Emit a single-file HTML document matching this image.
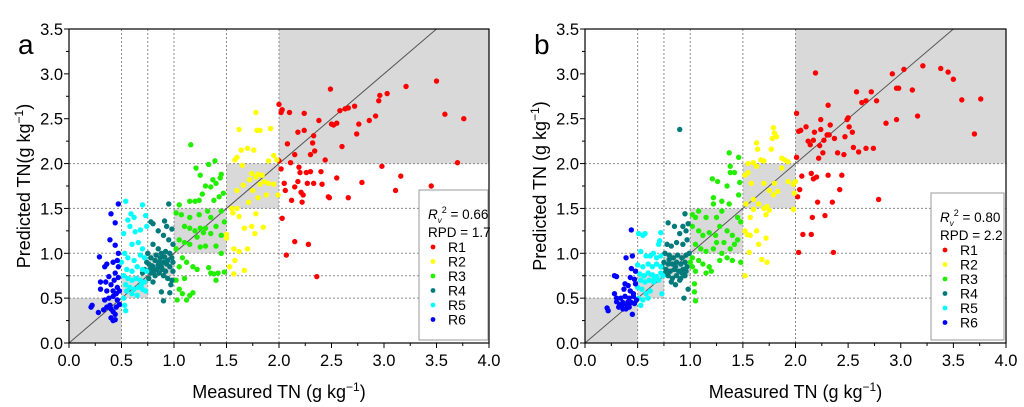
<!DOCTYPE html>
<html><head><meta charset="utf-8">
<style>
html,body{margin:0;padding:0;background:#fff;}
svg{display:block;font-family:"Liberation Sans",Arial,sans-serif;}
</style></head>
<body>
<svg id="chart" width="1024" height="407" viewBox="0 0 1024 407" xmlns="http://www.w3.org/2000/svg"></svg>
<script>
const xTicks = [0,0.5,1,1.5,2,2.5,3,3.5,4];
const yTicks = [0,0.5,1,1.5,2,2.5,3,3.5];
const xTickLabels = ["0.0","0.5","1.0","1.5","2.0","2.5","3.0","3.5","4.0"];
const yTickLabels = ["0.0","0.5","1.0","1.5","2.0","2.5","3.0","3.5"];
const gridVals = [0.5,0.75,1,1.5,2];
const shadeBoxes = [[0,0.5,0,0.5],[0.5,0.75,0.5,0.75],[0.75,1,0.75,1],[1,1.5,1,1.5],[1.5,2,1.5,2],[2,4,2,3.5]];
const seriesNames = ["R1","R2","R3","R4","R5","R6"];
const seriesColors = ["#ff0000","#ffff00","#22ee00","#007a7a","#00ffff","#0000ff"];

const R1a=[[2.0,2.66],[2.03,2.6],[2.1,2.57],[2.02,2.57],[2.24,2.56],[2.49,2.83],[2.58,2.59],[2.63,2.61],[2.66,2.62],[2.72,2.64],[2.96,2.76],[3.03,2.78],[3.21,2.86],[3.5,2.92],[3.58,2.55],[3.76,2.5],[2.38,2.48],[2.5,2.44],[2.55,2.45],[2.52,2.43],[2.76,2.44],[2.86,2.48],[2.92,2.53],[2.95,2.7],[2.74,2.33],[2.6,2.19],[2.33,2.31],[2.18,2.35],[2.24,2.37],[2.08,2.22],[2.15,2.1],[2.32,2.23],[2.34,2.14],[2.3,2.1],[2.44,2.04],[2.0,2.03],[2.11,2.01],[2.02,1.94],[2.19,1.96],[2.2,1.9],[2.26,1.9],[2.3,1.91],[2.4,1.91],[2.05,1.78],[2.18,1.8],[2.15,1.74],[2.21,1.68],[2.23,1.65],[2.22,1.57],[2.12,1.59],[2.06,1.7],[2.27,1.78],[2.33,1.78],[2.41,1.77],[2.47,1.63],[2.48,1.62],[2.55,1.84],[2.66,1.62],[2.79,1.79],[2.98,1.97],[3.11,1.7],[3.16,1.86],[3.45,1.75],[3.7,2.01],[2.03,1.39],[2.15,1.13],[2.28,1.1],[2.07,0.98],[2.36,0.74]];
const R2a=[[1.78,2.57],[1.62,2.38],[1.79,2.37],[1.82,2.37],[1.92,2.39],[1.64,2.15],[1.7,2.17],[1.76,2.15],[1.6,2.07],[1.58,2.04],[1.65,1.98],[1.95,2.09],[1.98,2.04],[1.9,2.03],[1.72,1.82],[1.74,1.89],[1.78,1.85],[1.8,1.88],[1.84,1.87],[1.86,1.8],[1.9,1.78],[1.95,1.77],[1.82,1.77],[1.75,1.7],[1.66,1.76],[1.6,1.7],[1.71,1.57],[1.8,1.62],[1.88,1.65],[1.99,1.65],[1.55,1.5],[1.6,1.5],[1.56,1.45],[1.62,1.41],[1.78,1.44],[1.5,1.21],[1.5,1.17],[1.67,1.28],[1.74,1.3],[1.77,1.22],[1.85,1.29],[1.57,1.05],[1.7,1.05],[1.62,1.02],[1.58,0.92],[1.53,0.85],[1.57,0.77],[1.67,0.81]];
const R3a=[[1.16,2.21],[1.33,1.99],[1.39,2.03],[1.45,1.88],[1.44,1.84],[1.21,1.95],[1.25,1.87],[1.37,1.82],[1.35,1.74],[1.3,1.75],[1.27,1.66],[1.4,1.78],[1.43,1.63],[1.47,1.67],[1.15,1.58],[1.2,1.58],[1.24,1.59],[1.38,1.59],[1.05,1.54],[1.02,1.45],[1.07,1.43],[1.15,1.4],[1.24,1.43],[1.32,1.47],[1.35,1.4],[1.45,1.47],[1.48,1.35],[1.1,1.3],[1.15,1.28],[1.2,1.25],[1.25,1.28],[1.28,1.23],[1.3,1.28],[1.22,1.18],[1.35,1.22],[1.4,1.3],[1.45,1.2],[1.05,1.15],[1.1,1.12],[1.15,1.1],[1.25,1.07],[1.3,1.08],[1.4,1.08],[1.45,1.0],[1.02,1.05],[1.08,0.95],[1.12,0.9],[1.05,0.85],[1.18,0.85],[1.22,0.82],[1.33,0.84],[1.35,0.78],[1.38,0.77],[1.42,0.78],[1.48,0.79],[1.4,0.7],[1.1,0.72],[1.05,0.6],[1.03,0.48],[1.08,0.55],[1.12,0.48],[1.15,0.53],[1.18,0.56],[1.02,0.7]];
const R4a=[[0.95,1.55],[0.78,1.35],[0.8,1.33],[0.91,1.36],[0.93,1.3],[0.98,1.27],[0.85,1.25],[0.9,1.2],[0.95,1.15],[0.99,1.1],[0.8,1.1],[0.85,1.05],[0.88,1.0],[0.92,1.02],[0.96,1.0],[0.75,1.0],[0.78,0.95],[0.82,0.92],[0.86,0.9],[0.9,0.9],[0.94,0.92],[0.98,0.95],[0.76,0.88],[0.8,0.85],[0.84,0.82],[0.88,0.85],[0.92,0.8],[0.96,0.85],[0.72,0.82],[0.78,0.78],[0.82,0.75],[0.86,0.78],[0.9,0.75],[0.94,0.72],[0.98,0.7],[0.76,0.72],[0.8,0.68],[0.7,0.78],[0.74,0.9],[0.83,0.98],[0.87,0.95],[0.91,0.96],[0.97,0.65],[0.88,0.57],[0.96,0.56],[0.9,0.47],[0.79,0.86],[0.81,0.8],[0.85,0.87],[0.89,0.82],[0.93,0.88],[0.77,0.82],[0.99,0.8],[0.99,0.9]];
const R5a=[[0.54,1.58],[0.59,1.44],[0.62,1.4],[0.7,1.54],[0.73,1.42],[0.56,1.37],[0.52,1.22],[0.58,1.3],[0.63,1.24],[0.68,1.26],[0.74,1.3],[0.6,1.1],[0.66,1.12],[0.7,1.05],[0.53,1.0],[0.56,0.95],[0.62,0.92],[0.68,0.98],[0.72,0.95],[0.5,0.9],[0.55,0.82],[0.6,0.8],[0.65,0.85],[0.7,0.82],[0.74,0.8],[0.52,0.75],[0.56,0.72],[0.6,0.7],[0.64,0.72],[0.68,0.7],[0.72,0.68],[0.54,0.65],[0.58,0.62],[0.62,0.6],[0.66,0.62],[0.7,0.6],[0.6,0.55],[0.65,0.53],[0.55,0.58],[0.53,0.42],[0.54,0.36],[0.52,0.5],[0.73,0.58],[0.69,0.65]];
const R6a=[[0.47,1.55],[0.4,1.44],[0.44,1.34],[0.39,1.15],[0.44,1.09],[0.47,1.0],[0.29,0.96],[0.42,0.9],[0.46,0.92],[0.36,0.88],[0.34,0.85],[0.47,0.85],[0.38,0.74],[0.44,0.78],[0.47,0.73],[0.3,0.68],[0.35,0.68],[0.43,0.7],[0.4,0.65],[0.46,0.62],[0.3,0.6],[0.36,0.58],[0.42,0.58],[0.45,0.55],[0.48,0.58],[0.34,0.48],[0.38,0.5],[0.42,0.52],[0.46,0.48],[0.48,0.43],[0.21,0.4],[0.22,0.42],[0.28,0.34],[0.33,0.37],[0.36,0.4],[0.4,0.38],[0.42,0.35],[0.44,0.32],[0.4,0.28],[0.42,0.25],[0.44,0.26],[0.45,0.4],[0.39,0.42]];

const R1b=[[2.19,3.01],[2.92,3.0],[3.03,3.05],[3.21,3.09],[3.38,3.06],[3.45,3.02],[3.5,2.94],[2.96,2.84],[2.98,2.84],[3.11,2.82],[2.58,2.8],[2.72,2.8],[2.63,2.68],[2.67,2.7],[2.77,2.7],[3.58,2.71],[3.76,2.72],[2.31,2.65],[2.01,2.56],[2.5,2.51],[2.49,2.49],[3.16,2.53],[2.96,2.49],[2.86,2.45],[2.24,2.49],[2.33,2.43],[2.51,2.41],[2.1,2.41],[2.03,2.36],[2.05,2.37],[2.18,2.35],[2.24,2.38],[2.3,2.32],[2.32,2.32],[2.54,2.35],[2.47,2.3],[2.37,2.28],[3.7,2.33],[2.12,2.25],[2.17,2.26],[2.27,2.26],[2.14,2.21],[2.23,2.2],[2.26,2.12],[2.4,2.12],[2.46,2.1],[2.55,2.18],[2.6,2.13],[2.67,2.17],[2.74,2.17],[2.22,2.06],[2.01,2.07],[2.15,1.89],[2.06,1.86],[2.17,1.83],[2.2,1.85],[2.31,1.87],[2.44,1.87],[2.04,1.71],[2.42,1.71],[2.02,1.63],[2.21,1.57],[2.35,1.57],[2.79,1.6],[2.16,1.4],[2.28,1.42],[2.07,1.21],[2.15,1.21],[2.03,1.01],[2.36,1.01]];
const R2b=[[1.79,2.4],[1.8,2.34],[1.82,2.3],[1.78,2.28],[1.63,2.23],[1.64,2.16],[1.77,2.16],[1.87,2.06],[1.9,2.04],[1.93,2.02],[1.67,2.04],[1.7,2.03],[1.55,2.0],[1.6,2.01],[1.63,1.97],[1.87,1.95],[1.52,1.87],[1.55,1.9],[1.58,1.78],[1.7,1.78],[1.8,1.78],[1.93,1.8],[1.98,1.77],[2.0,1.8],[1.75,1.7],[1.83,1.69],[1.99,1.67],[1.6,1.6],[1.65,1.55],[1.79,1.65],[1.53,1.55],[1.6,1.49],[1.7,1.5],[1.73,1.52],[1.75,1.48],[1.98,1.49],[1.57,1.4],[1.72,1.43],[1.52,1.25],[1.63,1.25],[1.54,1.21],[1.57,1.2],[1.65,1.1],[1.72,1.17],[1.56,1.01],[1.68,0.93],[1.73,0.9],[1.52,0.75]];
const R3b=[[1.37,2.12],[1.46,2.07],[1.38,1.97],[1.38,1.9],[1.42,1.9],[1.47,1.79],[1.21,1.83],[1.26,1.8],[1.35,1.75],[1.46,1.65],[1.22,1.62],[1.22,1.55],[1.3,1.58],[1.37,1.55],[1.02,1.43],[1.05,1.4],[1.08,1.47],[1.15,1.4],[1.25,1.4],[1.3,1.47],[1.45,1.4],[1.48,1.35],[1.02,1.3],[1.08,1.25],[1.12,1.2],[1.18,1.23],[1.24,1.2],[1.28,1.3],[1.35,1.25],[1.4,1.2],[1.45,1.15],[1.05,1.1],[1.1,1.05],[1.15,1.02],[1.22,1.05],[1.3,1.0],[1.38,1.05],[1.42,1.1],[1.02,0.95],[1.08,0.92],[1.12,0.88],[1.18,0.85],[1.2,0.8],[1.28,0.92],[1.35,0.95],[1.4,0.92],[1.48,0.9],[1.02,0.85],[1.05,0.8],[1.15,0.78],[1.04,0.66],[1.04,0.57],[1.05,0.47],[1.0,0.9],[1.25,1.12],[1.32,1.12]];
const R4b=[[0.9,2.38],[0.95,1.44],[0.79,1.34],[0.85,1.3],[0.93,1.3],[0.9,1.22],[0.96,1.25],[0.98,1.33],[0.78,1.1],[0.82,1.08],[0.87,1.12],[0.93,1.1],[0.97,1.15],[0.76,1.0],[0.8,0.98],[0.84,0.95],[0.88,0.98],[0.92,0.95],[0.96,0.98],[0.99,1.0],[0.75,0.9],[0.79,0.88],[0.83,0.88],[0.87,0.9],[0.91,0.88],[0.95,0.9],[0.77,0.82],[0.81,0.8],[0.85,0.82],[0.89,0.8],[0.93,0.82],[0.97,0.85],[0.79,0.75],[0.83,0.72],[0.87,0.75],[0.91,0.72],[0.95,0.75],[0.82,0.68],[0.86,0.65],[0.9,0.7],[0.98,0.6],[0.94,0.5],[0.8,0.93],[0.86,0.85],[0.92,0.78],[0.96,0.8],[0.76,0.78],[0.73,0.85]];
const R5b=[[0.51,1.22],[0.55,1.2],[0.57,1.22],[0.72,1.23],[0.71,1.14],[0.7,1.1],[0.53,1.02],[0.58,0.97],[0.62,0.97],[0.65,1.0],[0.68,0.95],[0.72,0.97],[0.5,0.87],[0.55,0.85],[0.6,0.88],[0.64,0.85],[0.68,0.88],[0.72,0.85],[0.52,0.77],[0.56,0.75],[0.6,0.78],[0.64,0.76],[0.68,0.74],[0.72,0.78],[0.74,0.75],[0.53,0.7],[0.57,0.68],[0.61,0.7],[0.65,0.68],[0.7,0.7],[0.5,0.62],[0.54,0.6],[0.58,0.55],[0.62,0.58],[0.51,0.5],[0.55,0.48],[0.6,0.5],[0.53,0.42],[0.73,0.55],[0.66,0.72]];
const R6b=[[0.44,1.26],[0.39,0.95],[0.45,0.97],[0.44,0.83],[0.48,0.8],[0.28,0.75],[0.3,0.74],[0.43,0.73],[0.47,0.71],[0.38,0.66],[0.41,0.64],[0.48,0.66],[0.37,0.6],[0.43,0.58],[0.46,0.55],[0.28,0.55],[0.3,0.5],[0.34,0.5],[0.38,0.52],[0.42,0.5],[0.46,0.52],[0.49,0.48],[0.3,0.46],[0.33,0.43],[0.36,0.45],[0.4,0.42],[0.44,0.45],[0.47,0.44],[0.32,0.4],[0.36,0.38],[0.39,0.38],[0.42,0.4],[0.21,0.39],[0.22,0.36],[0.45,0.32],[0.35,0.42],[0.41,0.46]];

const NS="http://www.w3.org/2000/svg";
const svg=document.getElementById('chart');
function mk(tag,attrs,parent,text){const e=document.createElementNS(NS,tag);for(const k in attrs)e.setAttribute(k,attrs[k]);if(text!==undefined)e.textContent=text;(parent||svg).appendChild(e);return e;}

function panel(cfg){
  const g=mk('g',{});
  
  
  const X=v=>cfg.x0+(cfg.x1-cfg.x0)*v/4;
  const Y=v=>cfg.y0-(cfg.y0-cfg.y1)*v/3.5;
  shadeBoxes.forEach(b=>{
    const r=mk('rect',{x:X(b[0]),y:Y(b[3]),width:X(b[1])-X(b[0]),height:Y(b[2])-Y(b[3]),fill:'#d9d9d9'},g);
    
    
  });
  gridVals.forEach(v=>{
    const l1=mk('line',{x1:X(v),x2:X(v),y1:Y(0),y2:Y(3.5),stroke:'#8a8a8a','stroke-width':1,'stroke-dasharray':'2,2'},g);
    
    
    const l2=mk('line',{x1:X(0),x2:X(4),y1:Y(v),y2:Y(v),stroke:'#8a8a8a','stroke-width':1,'stroke-dasharray':'2,2'},g);
    
    
  });
  const d=mk('line',{x1:X(0),y1:Y(0),x2:X(3.5),y2:Y(3.5),stroke:'#555','stroke-width':1},g);
  
  
  const sets=cfg.data;
  sets.forEach((s,i)=>{
    s.forEach(p=>{
      const c=mk('circle',{cx:X(p[0]),cy:Y(p[1]),r:2.7,fill:seriesColors[i]},g);
      
      
    });
  });
  const fr=mk('rect',{x:cfg.x0,y:cfg.y1,width:cfg.x1-cfg.x0,height:cfg.y0-cfg.y1,fill:'none',stroke:'#000','stroke-width':1.2},g);
  
  
  for(let v=0;v<=4.001;v+=0.25){
    const major=Math.abs(v*2-Math.round(v*2))<0.01;
    mk('line',{x1:X(v),x2:X(v),y1:Y(0),y2:Y(0)+(major?5:3),stroke:'#000','stroke-width':1},g);
  }
  for(let v=0;v<=3.501;v+=0.25){
    const major=Math.abs(v*2-Math.round(v*2))<0.01;
    mk('line',{x1:X(0),x2:X(0)-(major?5:3),y1:Y(v),y2:Y(v),stroke:'#000','stroke-width':1},g);
  }
  xTicks.forEach((v,i)=>{
    const t=mk('text',{x:X(v),y:Y(0)+23,'text-anchor':'middle','font-size':16.5,fill:'#000'},g,xTickLabels[i]);
    
    
  });
  yTicks.forEach((v,i)=>{
    const t=mk('text',{x:X(0)-6,y:Y(v)+6,'text-anchor':'end','font-size':16.5,fill:'#000'},g,yTickLabels[i]);
    
    
  });
  const xt=mk('text',{x:(cfg.x0+cfg.x1)/2,y:398,'text-anchor':'middle','font-size':18,fill:'#000'},g);
  
  
  xt.innerHTML='Measured TN (g kg<tspan dy="-7" font-size="12">−1</tspan><tspan dy="7">)</tspan>';
  const yt=mk('text',{transform:`translate(${cfg.ytx},${(cfg.y0+cfg.y1)/2}) rotate(-90)`,'text-anchor':'middle','font-size':18,fill:'#000'},g);
  
  
  yt.innerHTML=cfg.ylabel+' kg<tspan dy="-7" font-size="12">−1</tspan><tspan dy="7">)</tspan>';
  const pl=mk('text',{x:cfg.lx,y:54,'font-size':28,fill:'#000'},g,cfg.letter);
  
  
  const L=cfg.leg;
  const lg=mk('g',{},g);
  
  
  mk('rect',{x:L.x,y:L.y,width:L.w,height:L.h,fill:'#fff',stroke:'#999','stroke-width':1},lg);
  const r2=mk('text',{x:L.x+9,y:L.y+29,'font-size':13.5,fill:'#000'},lg);
  
  
  r2.innerHTML='<tspan font-style="italic">R</tspan><tspan font-size="8" dy="4" font-style="italic">v</tspan><tspan font-size="9" dy="-10">2</tspan><tspan dy="6"> = '+cfg.r2+'</tspan>';
  const rp=mk('text',{x:L.x+9,y:L.y+47,'font-size':13.5,fill:'#000'},lg,'RPD = '+cfg.rpd);
  
  
  seriesNames.forEach((n,i)=>{
    const yy=L.y+57+i*14.5;
    const e=mk('g',{},lg);
    
    
    mk('circle',{cx:L.x+14,cy:yy,r:2.4,fill:seriesColors[i]},e);
    mk('text',{x:L.x+29,y:yy+5,'font-size':14,fill:'#000'},e,n);
  });
}
panel({letter:'a',x0:69,x1:489,y0:343,y1:29,ytx:30,lx:18,ylabel:'Predicted TN(g',r2:'0.66',rpd:'1.7',
  leg:{x:419,y:190,w:69,h:150},data:[R1a,R2a,R3a,R4a,R5a,R6a]});
panel({letter:'b',x0:585,x1:1006,y0:343,y1:29,ytx:546,lx:534,ylabel:'Predicted TN (g',r2:'0.80',rpd:'2.2',
  leg:{x:931,y:193,w:73,h:147},data:[R1b,R2b,R3b,R4b,R5b,R6b]});
</script>
</body></html>
